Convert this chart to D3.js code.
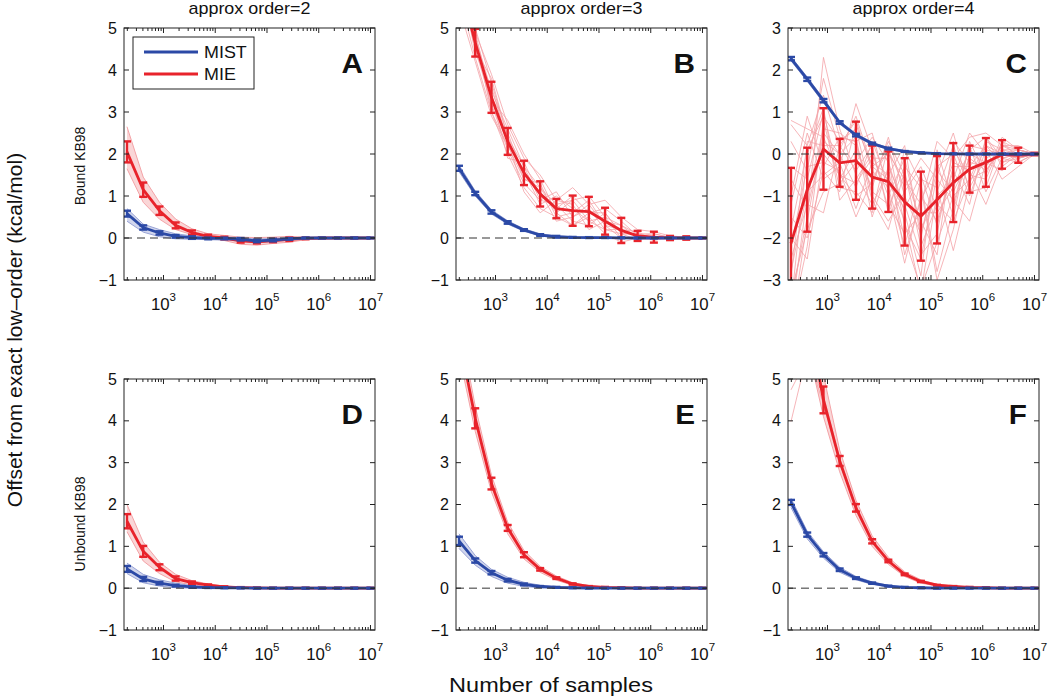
<!DOCTYPE html>
<html><head><meta charset="utf-8">
<script src="https://cdn.jsdelivr.net/npm/d3@7"></script>
<style>
body{margin:0;background:#fff;}
text{font-family:"Liberation Sans",Arial,Helvetica,sans-serif;fill:#111;}
</style></head><body>
<svg id="chart" width="1050" height="699"></svg>
<script>
// ---------------- data ----------------
const samples = [197, 406, 836, 1720, 3550, 7300, 15000, 31000, 63800, 131000, 270000, 557000, 1150000, 2360000, 4860000, 10000000];
const xTickExps = [3, 4, 5, 6, 7];
const yTicksMain = [-1, 0, 1, 2, 3, 4, 5];
const yTicksC = [-3, -2, -1, 0, 1, 2, 3];
const titles = ["approx order=2", "approx order=3", "approx order=4"];
const rowLabels = ["Bound KB98", "Unbound KB98"];
const panelLetters = ["A", "B", "C", "D", "E", "F"];
const seriesNames = ["MIST", "MIE"];

const A_mie_mean = [2.05, 1.15, 0.65, 0.3, 0.13, 0.04, 0.0, -0.07, -0.09, -0.06, -0.03, -0.01, 0, 0, 0, 0];
const A_mie_err  = [0.25, 0.17, 0.1, 0.07, 0.05, 0.04, 0.03, 0.04, 0.04, 0.04, 0.04, 0.02, 0.01, 0.01, 0.01, 0.005];
const A_mie_lo   = [1.65, 0.85, 0.45, 0.2, 0.08, 0.0, -0.06, -0.15, -0.17, -0.13, -0.1, -0.04, -0.02, -0.01, 0, 0];
const A_mie_hi   = [2.65, 1.45, 0.85, 0.45, 0.22, 0.1, 0.06, 0.02, 0.01, 0.02, 0.04, 0.02, 0.01, 0.01, 0, 0];
const A_mist_mean = [0.58, 0.25, 0.12, 0.04, 0.01, -0.01, -0.01, -0.03, -0.07, -0.05, -0.02, 0, 0, 0, 0, 0];
const A_mist_err  = [0.07, 0.05, 0.04, 0.03, 0.03, 0.02, 0.02, 0.03, 0.03, 0.03, 0.02, 0.01, 0.01, 0.01, 0.01, 0.01];
const A_mist_lo   = [0.4, 0.14, 0.03, -0.02, -0.03, -0.04, -0.05, -0.07, -0.11, -0.09, -0.05, -0.02, -0.01, 0, 0, 0];
const A_mist_hi   = [0.7, 0.33, 0.2, 0.1, 0.05, 0.02, 0.02, 0.01, -0.03, -0.01, 0.01, 0.01, 0.01, 0, 0, 0];

const B_mie_mean = [6.2, 4.65, 3.35, 2.3, 1.55, 1.05, 0.7, 0.65, 0.63, 0.4, 0.18, 0.05, 0.02, 0.0, 0.0, 0.0];
const B_mie_err  = [0.4, 0.33, 0.37, 0.32, 0.29, 0.3, 0.23, 0.36, 0.35, 0.32, 0.3, 0.12, 0.13, 0.05, 0.04, 0.01];
const B_mie_runs = [
  [6.0, 4.9, 3.9, 2.7, 1.9, 1.5, 0.9, 1.2, 0.8, 0.9, 0.5, 0.2, 0.15, 0.05, 0.02, 0],
  [5.8, 4.3, 3.0, 2.0, 1.2, 0.7, 0.5, 0.3, 0.5, 0.1, -0.1, 0.0, -0.05, 0.0, 0.0, 0],
  [6.5, 4.8, 3.5, 2.6, 1.7, 1.2, 0.6, 0.9, 1.0, 0.5, 0.3, 0.1, 0.1, 0.02, 0.01, 0],
  [6.3, 4.5, 3.2, 2.1, 1.3, 0.9, 0.8, 0.4, 0.3, 0.6, 0.1, -0.05, 0.0, 0.0, 0.0, 0],
  [5.5, 4.2, 2.9, 2.2, 1.6, 0.8, 1.0, 0.7, 0.4, 0.2, 0.2, 0.15, -0.05, 0.0, 0.0, 0],
  [6.8, 5.0, 3.7, 2.4, 1.4, 1.3, 0.5, 0.6, 0.9, 0.3, 0.0, 0.0, 0.05, 0.0, 0.0, 0],
  [6.1, 4.6, 3.4, 1.9, 1.8, 1.0, 0.7, 1.0, 0.6, 0.7, 0.4, 0.05, 0.1, 0.01, 0.0, 0],
  [5.9, 4.7, 3.1, 2.5, 1.5, 1.1, 0.4, 0.5, 0.7, 0.2, 0.1, 0.1, 0.0, 0.0, 0.0, 0],
  [6.4, 4.4, 3.6, 2.3, 1.1, 0.6, 0.9, 0.8, 0.2, 0.4, 0.3, 0.0, 0.02, 0.0, 0.0, 0],
  [6.6, 4.9, 3.3, 2.8, 2.0, 1.4, 0.6, 0.3, 0.6, 0.6, 0.1, 0.1, 0.0, 0.0, 0.0, 0],
  [6.2, 4.5, 3.8, 2.4, 1.7, 0.9, 1.1, 0.5, 0.8, 0.3, 0.2, 0.05, 0.03, 0.0, 0.0, 0],
  [5.7, 4.8, 3.0, 2.2, 1.4, 1.2, 0.8, 0.9, 0.4, 0.5, 0.0, 0.0, 0.0, 0.0, 0.0, 0]
];
const B_mist_mean = [1.66, 1.06, 0.62, 0.37, 0.19, 0.07, 0.03, 0.015, 0.01, 0.01, 0.005, 0, 0, 0, 0, 0];
const B_mist_err  = [0.06, 0.04, 0.04, 0.03, 0.02, 0.02, 0.02, 0.01, 0.01, 0.01, 0.01, 0.01, 0.01, 0.01, 0.01, 0.01];
const B_mist_lo   = [1.58, 1.0, 0.57, 0.33, 0.16, 0.05, 0.01, 0, 0, 0, 0, 0, 0, 0, 0, 0];
const B_mist_hi   = [1.74, 1.12, 0.67, 0.41, 0.22, 0.1, 0.05, 0.03, 0.02, 0.02, 0.01, 0, 0, 0, 0, 0];

const C_mie_mean = [-2.13, -0.85, 0.12, -0.21, -0.16, -0.55, -0.66, -1.14, -1.48, -1.09, -0.68, -0.36, -0.2, -0.01, -0.03, 0];
const C_mie_err  = [1.8, 1.0, 0.97, 0.57, 0.93, 0.75, 0.72, 1.04, 1.06, 1.04, 0.94, 0.56, 0.58, 0.34, 0.18, 0.03];
const C_mie_runs = [
  [0.7, 0.2, 1.4, 0.1, 0.9, -0.3, 0.0, -0.6, -1.2, 0.3, -0.1, 0.4, 0.5, 0.2, 0.1, 0.0],
  [-3.5, -1.5, 2.3, 0.6, -0.5, -1.2, -0.4, -2.0, -3.2, -2.1, -1.0, -0.6, 0.3, 0.1, 0.0, 0.0],
  [-1.2, 0.5, -0.6, -0.3, 1.2, 0.1, -1.3, -0.3, -0.8, -3.0, -1.8, 0.0, -0.2, -0.4, -0.1, 0.0],
  [-4.0, -2.2, 0.8, -0.8, -0.9, -1.4, 0.2, -1.7, -2.5, -0.5, 0.5, -0.9, -0.8, 0.3, 0.1, 0.0],
  [0.3, -0.4, 1.8, 0.4, 0.3, 0.5, -0.9, -2.6, -1.0, -1.6, -0.4, -1.2, 0.4, -0.1, -0.2, 0.0],
  [-2.8, -0.9, -0.5, -0.2, -1.3, -0.2, -0.5, 0.2, -2.0, -0.2, -1.5, 0.3, -0.5, 0.4, 0.1, 0.0],
  [-1.8, 0.1, 0.9, 0.3, 0.6, -1.0, -1.6, -0.9, -0.3, -1.3, -0.2, -0.4, -1.2, -0.2, 0.0, 0.0],
  [-3.3, -1.8, -0.9, -0.7, -0.2, 0.4, -0.2, -1.4, -2.9, 0.1, -1.2, 0.2, 0.1, -0.6, -0.3, 0.0],
  [0.8, 0.6, 0.4, -0.5, -1.0, -0.7, 0.3, -0.5, -1.6, -2.4, 0.3, -0.2, -0.3, 0.2, 0.2, 0.0],
  [-2.5, -1.2, -1.4, 0.2, 0.8, -0.4, -0.8, -2.2, -0.6, -0.8, -2.3, -0.7, 0.2, 0.0, -0.1, 0.0],
  [-3.6, 0.0, 1.1, -1.1, -0.6, 0.0, -1.0, -0.1, -1.8, -1.0, -0.6, 0.5, 0.0, -0.1, 0.0, 0.0],
  [-0.6, -1.3, 0.3, 0.0, 0.4, -1.5, -0.3, -1.2, -2.4, -1.9, 0.1, -0.5, -0.6, 0.3, -0.1, 0.0],
  [-2.2, -0.3, -0.2, -0.4, -1.5, -0.6, 0.1, -0.8, -0.1, -0.6, -1.1, -1.6, -0.2, 0.0, 0.1, 0.0],
  [-3.9, -1.0, 0.6, 0.5, 0.2, -0.9, -1.2, -1.9, -1.4, -1.4, -0.8, 0.1, 0.4, -0.3, 0.0, 0.0],
  [-1.5, -2.0, -0.4, -0.9, 0.7, -0.3, -0.6, -1.6, -3.3, -0.9, 0.2, -0.8, -0.1, 0.1, -0.2, 0.0],
  [-2.9, 0.3, 0.2, 0.2, -0.4, 0.2, -1.4, 0.1, -0.7, -2.8, -1.3, 0.2, -0.9, -0.1, 0.0, 0.0],
  [-0.3, -0.6, 1.0, -0.6, 0.1, -0.8, 0.4, -1.0, -1.9, -0.4, -0.9, -0.1, -0.4, 0.2, 0.0, 0.0],
  [-4.2, -1.6, 0.5, 0.0, -0.8, 0.3, -0.7, -1.3, -0.5, -1.7, -0.3, -0.3, 0.2, -0.2, -0.1, 0.0],
  [-1.0, 0.9, -0.3, 0.4, 0.3, -1.1, -1.8, -0.4, -2.2, -1.2, -1.6, -0.6, -0.4, 0.1, 0.1, 0.0],
  [-2.0, -2.5, 0.0, -0.5, -0.7, -0.1, -0.1, -2.4, -1.1, -0.3, 0.0, -1.0, 0.1, 0.0, -0.1, 0.0]
];
const C_mist_mean = [2.27, 1.78, 1.27, 0.75, 0.45, 0.25, 0.13, 0.06, 0.03, 0.01, 0.005, 0, 0, 0, 0, 0];
const C_mist_err  = [0.04, 0.04, 0.04, 0.03, 0.03, 0.02, 0.02, 0.01, 0.01, 0.01, 0.01, 0.01, 0.01, 0.01, 0.01, 0.01];
const C_mist_lo   = [2.22, 1.73, 1.22, 0.71, 0.42, 0.22, 0.11, 0.05, 0.02, 0, 0, 0, 0, 0, 0, 0];
const C_mist_hi   = [2.32, 1.83, 1.32, 0.79, 0.48, 0.28, 0.15, 0.08, 0.04, 0.02, 0.01, 0, 0, 0, 0, 0];

const D_mie_mean = [1.6, 0.88, 0.5, 0.23, 0.13, 0.07, 0.03, 0.015, 0.005, 0, 0, 0, 0, 0, 0, 0];
const D_mie_err  = [0.17, 0.13, 0.07, 0.05, 0.03, 0.02, 0.015, 0.01, 0.01, 0.01, 0.01, 0.01, 0.01, 0.01, 0.01, 0.01];
const D_mie_lo   = [1.35, 0.65, 0.35, 0.15, 0.08, 0.03, 0.01, 0, 0, 0, 0, 0, 0, 0, 0, 0];
const D_mie_hi   = [2.0, 1.1, 0.62, 0.33, 0.18, 0.1, 0.05, 0.03, 0.01, 0.01, 0, 0, 0, 0, 0, 0];
const D_mist_mean = [0.46, 0.22, 0.12, 0.06, 0.03, 0.015, 0.01, 0.005, 0, 0, 0, 0, 0, 0, 0, 0];
const D_mist_err  = [0.07, 0.05, 0.03, 0.02, 0.015, 0.01, 0.01, 0.01, 0.01, 0.01, 0.01, 0.01, 0.01, 0.01, 0.01, 0.01];
const D_mist_lo   = [0.35, 0.13, 0.05, 0.01, 0, 0, 0, 0, 0, 0, 0, 0, 0, 0, 0, 0];
const D_mist_hi   = [0.6, 0.33, 0.2, 0.12, 0.06, 0.03, 0.02, 0.01, 0, 0, 0, 0, 0, 0, 0, 0];

const E_mie_mean = [6.0, 4.06, 2.5, 1.44, 0.8, 0.45, 0.24, 0.1, 0.04, 0.02, 0.01, 0, 0, 0, 0, 0];
const E_mie_err  = [0.3, 0.24, 0.14, 0.07, 0.06, 0.03, 0.02, 0.015, 0.01, 0.01, 0.01, 0.01, 0.01, 0.01, 0.01, 0.01];
const E_mie_lo   = [5.6, 3.75, 2.3, 1.3, 0.7, 0.38, 0.19, 0.07, 0.02, 0.01, 0, 0, 0, 0, 0, 0];
const E_mie_hi   = [6.4, 4.35, 2.7, 1.58, 0.9, 0.52, 0.29, 0.13, 0.06, 0.03, 0.01, 0, 0, 0, 0, 0];
const E_mist_mean = [1.13, 0.66, 0.37, 0.19, 0.09, 0.04, 0.02, 0.01, 0, 0, 0, 0, 0, 0, 0, 0];
const E_mist_err  = [0.1, 0.05, 0.04, 0.03, 0.02, 0.01, 0.01, 0.01, 0.01, 0.01, 0.01, 0.01, 0.01, 0.01, 0.01, 0.01];
const E_mist_lo   = [0.95, 0.55, 0.28, 0.12, 0.04, 0.01, 0, 0, 0, 0, 0, 0, 0, 0, 0, 0];
const E_mist_hi   = [1.3, 0.78, 0.45, 0.26, 0.14, 0.07, 0.04, 0.02, 0.01, 0, 0, 0, 0, 0, 0, 0];

const F_mie_mean = [7.5, 6.6, 4.5, 3.04, 1.92, 1.12, 0.65, 0.33, 0.16, 0.07, 0.04, 0.02, 0.01, 0, 0, 0];
const F_mie_err  = [0.5, 0.4, 0.32, 0.12, 0.09, 0.05, 0.03, 0.02, 0.015, 0.01, 0.01, 0.01, 0.01, 0.01, 0.01, 0.01];
const F_mie_lo   = [6.5, 5.8, 4.1, 2.78, 1.74, 1.0, 0.57, 0.28, 0.12, 0.05, 0.02, 0.01, 0, 0, 0, 0];
const F_mie_hi   = [8.5, 7.4, 5.1, 3.3, 2.1, 1.25, 0.74, 0.39, 0.2, 0.09, 0.05, 0.03, 0.01, 0, 0, 0];
const F_mie_runs = [
  [3.98, 5.6, 4.4, 3.0, 1.9, 1.1, 0.64, 0.32, 0.15, 0.07, 0.03, 0.01, 0, 0, 0, 0],
  [4.74, 5.5, 4.6, 3.1, 1.95, 1.14, 0.66, 0.34, 0.17, 0.08, 0.04, 0.02, 0.01, 0, 0, 0]
];
const F_mist_mean = [2.05, 1.28, 0.8, 0.44, 0.24, 0.12, 0.05, 0.02, 0.01, 0, 0, 0, 0, 0, 0, 0];
const F_mist_err  = [0.06, 0.05, 0.04, 0.03, 0.02, 0.015, 0.01, 0.01, 0.01, 0.01, 0.01, 0.01, 0.01, 0.01, 0.01, 0.01];
const F_mist_lo   = [1.93, 1.18, 0.72, 0.38, 0.2, 0.09, 0.03, 0.01, 0, 0, 0, 0, 0, 0, 0, 0];
const F_mist_hi   = [2.15, 1.36, 0.87, 0.5, 0.28, 0.15, 0.07, 0.03, 0.015, 0, 0, 0, 0, 0, 0, 0];

// ---------------- layout / style ----------------
const W = 251;
const colX = [124, 456, 788];
const rowY = [28, 379];
const rowH = [252, 251];
const xMinLog = 2.237, xMaxLog = 7.087;
const BLUE = "#2b49a6", RED = "#e8232b", PINK = "#f4a3a7", LBLUE = "#9aa4d6";
const FONT_STRETCH = 1.12;

const panels = [
  {col:0,row:0,ydom:[-1,5],ticks:yTicksMain,
   mie:{mean:A_mie_mean,err:A_mie_err,lo:A_mie_lo,hi:A_mie_hi},
   mist:{mean:A_mist_mean,err:A_mist_err,lo:A_mist_lo,hi:A_mist_hi}},
  {col:1,row:0,ydom:[-1,5],ticks:yTicksMain,
   mie:{mean:B_mie_mean,err:B_mie_err,runs:B_mie_runs},
   mist:{mean:B_mist_mean,err:B_mist_err,lo:B_mist_lo,hi:B_mist_hi}},
  {col:2,row:0,ydom:[-3,3],ticks:yTicksC,
   mie:{mean:C_mie_mean,err:C_mie_err,runs:C_mie_runs},
   mist:{mean:C_mist_mean,err:C_mist_err,lo:C_mist_lo,hi:C_mist_hi}},
  {col:0,row:1,ydom:[-1,5],ticks:yTicksMain,
   mie:{mean:D_mie_mean,err:D_mie_err,lo:D_mie_lo,hi:D_mie_hi},
   mist:{mean:D_mist_mean,err:D_mist_err,lo:D_mist_lo,hi:D_mist_hi}},
  {col:1,row:1,ydom:[-1,5],ticks:yTicksMain,
   mie:{mean:E_mie_mean,err:E_mie_err,lo:E_mie_lo,hi:E_mie_hi},
   mist:{mean:E_mist_mean,err:E_mist_err,lo:E_mist_lo,hi:E_mist_hi}},
  {col:2,row:1,ydom:[-1,5],ticks:yTicksMain,
   mie:{mean:F_mie_mean,err:F_mie_err,lo:F_mie_lo,hi:F_mie_hi,runs:F_mie_runs},
   mist:{mean:F_mist_mean,err:F_mist_err,lo:F_mist_lo,hi:F_mist_hi}}
];

const svg = d3.select("#chart");
const defs = svg.append("defs");

function addText(parent, x, y, str, size, anchor, opts) {
  opts = opts || {};
  const sx = opts.sx || FONT_STRETCH;
  const tr = opts.rotate
    ? `translate(${x},${y}) rotate(-90)`
    : `translate(${x},${y}) scale(${sx},1)`;
  const t = parent.append("text").attr("transform", tr)
    .attr("text-anchor", anchor).style("font-size", size + "px");
  if (opts.bold) t.attr("font-weight", "bold");
  t.text(str);
  return t;
}

const x = d3.scaleLog().domain([Math.pow(10, xMinLog), Math.pow(10, xMaxLog)]).range([0, W]);

panels.forEach((p, pi) => {
  const h = rowH[p.row];
  const g = svg.append("g").attr("transform", `translate(${colX[p.col]},${rowY[p.row]})`);
  const y = d3.scaleLinear().domain(p.ydom).range([h, 0]);
  const cid = "clip" + pi;
  defs.append("clipPath").attr("id", cid).append("rect").attr("width", W).attr("height", h);
  const plot = g.append("g").attr("clip-path", `url(#${cid})`);

  const line = d3.line().x((d, i) => x(samples[i])).y(d => y(d));
  const area = d3.area().x((d, i) => x(samples[i])).y0(d => y(d[0])).y1(d => y(d[1]));

  function spread(s, col) {
    if (s.lo) {
      const pairs = s.lo.map((v, i) => [v, s.hi[i]]);
      plot.append("path").attr("d", area(pairs)).attr("fill", col).attr("fill-opacity", 0.45).attr("stroke", "none");
      [s.lo, s.hi].forEach(arr => plot.append("path").attr("d", line(arr))
        .attr("fill", "none").attr("stroke", col).attr("stroke-width", 1));
    }
    if (s.runs) {
      s.runs.forEach(r => plot.append("path").attr("d", line(r))
        .attr("fill", "none").attr("stroke", col).attr("stroke-width", 1).attr("stroke-opacity", 0.8));
    }
  }
  function meanLine(s, col) {
    plot.append("path").attr("d", line(s.mean)).attr("fill", "none")
      .attr("stroke", col).attr("stroke-width", 2.8).attr("stroke-linejoin", "round");
    const eb = plot.append("g").attr("stroke", col).attr("stroke-width", 2.4);
    s.mean.forEach((m, i) => {
      const xi = x(samples[i]);
      const y1 = y(m + s.err[i]), y0 = y(m - s.err[i]);
      eb.append("line").attr("x1", xi).attr("x2", xi).attr("y1", y0).attr("y2", y1);
      eb.append("line").attr("x1", xi - 4).attr("x2", xi + 4).attr("y1", y0).attr("y2", y0);
      eb.append("line").attr("x1", xi - 4).attr("x2", xi + 4).attr("y1", y1).attr("y2", y1);
    });
  }
  spread(p.mie, PINK);
  spread(p.mist, LBLUE);
  meanLine(p.mie, RED);
  meanLine(p.mist, BLUE);

  // zero dashed line
  plot.append("line").attr("x1", 0).attr("x2", W).attr("y1", y(0)).attr("y2", y(0))
    .attr("stroke", "#333").attr("stroke-width", 1).attr("stroke-dasharray", "8,5");

  // box
  g.append("rect").attr("width", W).attr("height", h).attr("fill", "none")
    .attr("stroke", "#222").attr("stroke-width", 1);

  // y ticks
  const tk = g.append("g").attr("stroke", "#222").attr("stroke-width", 1);
  p.ticks.forEach(t => {
    const yy = y(t);
    tk.append("line").attr("x1", 0).attr("x2", 5).attr("y1", yy).attr("y2", yy);
    tk.append("line").attr("x1", W - 5).attr("x2", W).attr("y1", yy).attr("y2", yy);
    addText(g, -7, yy + 5.5, t < 0 ? "\u2212" + Math.abs(t) : String(t), 16, "end", {sx: 1.0});
  });
  // x ticks major + minor
  const [d0, d1] = x.domain();
  for (let k = 2; k <= 7; k++) {
    for (let m = 1; m <= 9; m++) {
      const v = m * Math.pow(10, k);
      if (v < d0 || v > d1) continue;
      const xx = x(v);
      const len = m === 1 ? 5 : 3;
      tk.append("line").attr("x1", xx).attr("x2", xx).attr("y1", h).attr("y2", h - len);
      tk.append("line").attr("x1", xx).attr("x2", xx).attr("y1", 0).attr("y2", len);
    }
  }
  xTickExps.forEach(e => {
    const xx = x(Math.pow(10, e));
    const t = g.append("text").attr("transform", `translate(${xx},${h + 30}) scale(1.05,1)`)
      .attr("text-anchor", "middle").style("font-size", "16px");
    t.append("tspan").text("10");
    t.append("tspan").attr("dy", -9).style("font-size", "11px").text(String(e));
  });

  // panel letter
  addText(g, W - 12, 45, panelLetters[pi], 27, "end", {bold: true, sx: 1.1});
});

// column titles
titles.forEach((t, i) => addText(svg, colX[i] + W / 2, 14, t, 16, "middle"));

// row labels (rotated)
addText(svg, 85, 166, rowLabels[0], 14, "middle", {rotate: true});
addText(svg, 85, 524, rowLabels[1], 14, "middle", {rotate: true});

// global labels
addText(svg, 22, 330, "Offset from exact low\u2013order (kcal/mol)", 21, "middle", {rotate: true});
addText(svg, 551, 692, "Number of samples", 21, "middle");

// legend in panel A
const lg = svg.append("g").attr("transform", "translate(133,37)");
lg.append("rect").attr("width", 121).attr("height", 52).attr("fill", "#fff").attr("stroke", "#222").attr("stroke-width", 1);
[[BLUE, 15], [RED, 37]].forEach((c, i) => {
  lg.append("line").attr("x1", 11).attr("x2", 65).attr("y1", c[1]).attr("y2", c[1])
    .attr("stroke", c[0]).attr("stroke-width", 3);
  addText(lg, 71, c[1] + 6, seriesNames[i], 16, "start");
});
</script>
</body></html>
